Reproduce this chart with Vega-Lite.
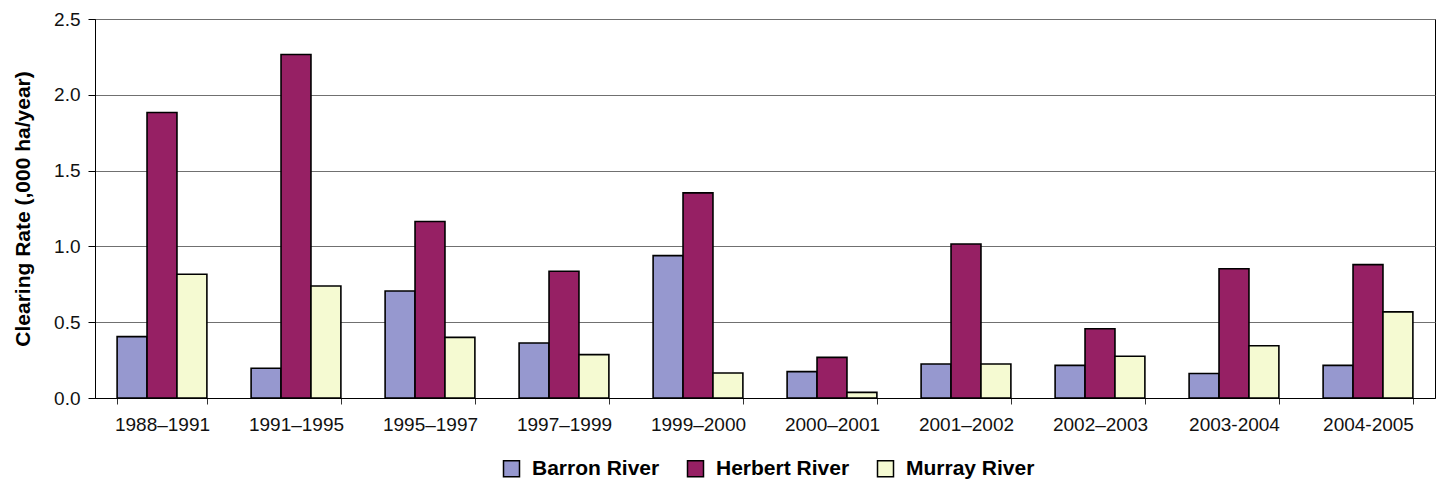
{
  "$schema": "https://vega.github.io/schema/vega-lite/v6.json",
  "autosize": {"type": "none"},
  "padding": {"left": 95, "top": 19, "right": 7, "bottom": 84},
  "width": 1340,
  "height": 379,
  "background": "white",
  "config": {
    "view": {"stroke": "#000000", "strokeWidth": 1},
    "font": "Liberation Sans"
  },
  "data": {
    "values": [
      {"period": "1988–1991", "river": "Barron River", "rate": 0.405},
      {"period": "1988–1991", "river": "Herbert River", "rate": 1.883},
      {"period": "1988–1991", "river": "Murray River", "rate": 0.816},
      {"period": "1991–1995", "river": "Barron River", "rate": 0.196},
      {"period": "1991–1995", "river": "Herbert River", "rate": 2.266},
      {"period": "1991–1995", "river": "Murray River", "rate": 0.739},
      {"period": "1995–1997", "river": "Barron River", "rate": 0.706},
      {"period": "1995–1997", "river": "Herbert River", "rate": 1.164},
      {"period": "1995–1997", "river": "Murray River", "rate": 0.4},
      {"period": "1997–1999", "river": "Barron River", "rate": 0.363},
      {"period": "1997–1999", "river": "Herbert River", "rate": 0.836},
      {"period": "1997–1999", "river": "Murray River", "rate": 0.286},
      {"period": "1999–2000", "river": "Barron River", "rate": 0.939},
      {"period": "1999–2000", "river": "Herbert River", "rate": 1.353},
      {"period": "1999–2000", "river": "Murray River", "rate": 0.165},
      {"period": "2000–2001", "river": "Barron River", "rate": 0.174},
      {"period": "2000–2001", "river": "Herbert River", "rate": 0.268},
      {"period": "2000–2001", "river": "Murray River", "rate": 0.037},
      {"period": "2001–2002", "river": "Barron River", "rate": 0.224},
      {"period": "2001–2002", "river": "Herbert River", "rate": 1.016},
      {"period": "2001–2002", "river": "Murray River", "rate": 0.224},
      {"period": "2002–2003", "river": "Barron River", "rate": 0.215},
      {"period": "2002–2003", "river": "Herbert River", "rate": 0.457},
      {"period": "2002–2003", "river": "Murray River", "rate": 0.275},
      {"period": "2003-2004", "river": "Barron River", "rate": 0.162},
      {"period": "2003-2004", "river": "Herbert River", "rate": 0.853},
      {"period": "2003-2004", "river": "Murray River", "rate": 0.345},
      {"period": "2004-2005", "river": "Barron River", "rate": 0.215},
      {"period": "2004-2005", "river": "Herbert River", "rate": 0.88},
      {"period": "2004-2005", "river": "Murray River", "rate": 0.568}
    ]
  },
  "mark": {"type": "bar", "stroke": "#000000", "strokeWidth": 1.6},
  "encoding": {
    "x": {
      "field": "period",
      "type": "nominal",
      "sort": null,
      "scale": {"paddingInner": 0.33, "paddingOuter": 0.165},
      "axis": {
        "title": null,
        "labelAngle": 0,
        "labelFontSize": 19,
        "labelColor": "#111111",
        "labelPadding": 11,
        "tickBand": "extent",
        "tickSize": 6,
        "tickColor": "#333333",
        "domainColor": "#000000",
        "grid": false
      }
    },
    "xOffset": {
      "field": "river",
      "type": "nominal",
      "scale": {"paddingInner": 0, "paddingOuter": 0}
    },
    "y": {
      "field": "rate",
      "type": "quantitative",
      "scale": {"domain": [0, 2.5], "nice": false},
      "axis": {
        "title": "Clearing Rate (,000 ha/year)",
        "titleFontSize": 21,
        "titleFontWeight": "bold",
        "titleColor": "#000000",
        "titlePadding": 20,
        "values": [0, 0.5, 1, 1.5, 2, 2.5],
        "format": ".1f",
        "labelFontSize": 19,
        "labelColor": "#111111",
        "labelPadding": 8,
        "tickSize": 7,
        "tickColor": "#000000",
        "domainColor": "#000000",
        "gridColor": "#707070",
        "gridWidth": 1
      }
    },
    "color": {
      "field": "river",
      "type": "nominal",
      "scale": {
        "domain": ["Barron River", "Herbert River", "Murray River"],
        "range": ["#9698CF", "#962064", "#F5FAD2"]
      },
      "legend": {
        "title": null,
        "orient": "none",
        "direction": "horizontal",
        "legendX": 406,
        "legendY": 439,
        "symbolType": "square",
        "symbolSize": 256,
        "symbolStrokeColor": "#000000",
        "symbolStrokeWidth": 1.5,
        "symbolOpacity": 1,
        "labelFontSize": 21,
        "labelFontWeight": "bold",
        "labelColor": "#000000",
        "labelOffset": 10,
        "columnPadding": 24,
        "labelLimit": 400
      }
    }
  }
}
